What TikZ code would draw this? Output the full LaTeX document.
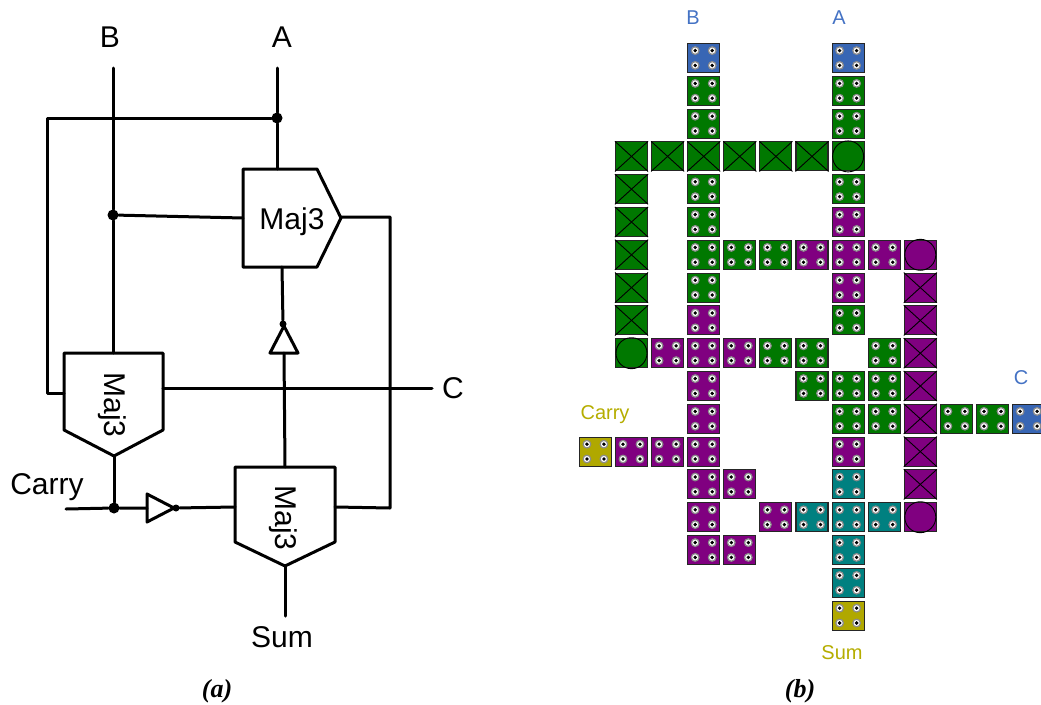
\documentclass[tikz,border=0pt]{standalone}
\usepackage{fontspec}
\setmainfont{Liberation Sans}
\newfontfamily\capfont{Liberation Serif}
\definecolor{cellgreen}{RGB}{0,120,0}
\definecolor{cellpurple}{RGB}{128,0,128}
\definecolor{cellblue}{RGB}{56,102,180}
\definecolor{cellteal}{RGB}{0,128,128}
\definecolor{cellolive}{RGB}{176,168,0}
\definecolor{labelblue}{RGB}{68,114,196}
\definecolor{labelolive}{RGB}{181,173,0}
\tikzset{
  wire/.style={line width=3pt,line cap=round,line join=round},
  gate/.style={line width=3pt,line join=round},
  jdot/.style={circle,fill=black,inner sep=0pt,minimum size=#1},
  bigtext/.style={font=\fontsize{30}{30}\selectfont},
  smalltext/.style={font=\fontsize{20}{20}\selectfont},
  captext/.style={font=\capfont\bfseries\itshape\fontsize{26}{26}\selectfont},
  cellbox/.style={draw=black!85,line width=1.1pt,minimum width=32pt,minimum height=29pt,inner sep=0pt},
}
\newcommand{\dotcells}[2]{
  \foreach \c/\r in {#2}{
    \node[cellbox,fill=#1] (v\c-\r) at ({595.4+36.1*\c},{58+32.8*\r}) {};
    \foreach \dx in {-8.5,8.5}{\foreach \dy in {-7.4,7.4}{
      \draw[fill=white,draw=gray!90,line width=1.2pt] ([shift={(\dx,\dy)}]v\c-\r.center) circle (3.8);
      \fill[black] ([shift={(\dx,\dy)}]v\c-\r.center) circle (1.9);
    }}
  }
}
\newcommand{\crosscells}[2]{
  \foreach \c/\r in {#2}{
    \node[cellbox,fill=#1] (x\c-\r) at ({595.4+36.1*\c},{58+32.8*\r}) {};
    \draw[line width=0.9pt] (x\c-\r.north west) -- (x\c-\r.south east);
    \draw[line width=0.9pt] (x\c-\r.north east) -- (x\c-\r.south west);
  }
}
\newcommand{\roundcells}[2]{
  \foreach \c/\r in {#2}{
    \node[cellbox,fill=#1] (o\c-\r) at ({595.4+36.1*\c},{58+32.8*\r}) {};
    \draw[line width=0.9pt] (o\c-\r.center) circle (15.5);
  }
}
\begin{document}
\begin{tikzpicture}[x=1pt,y=-1pt]
    \useasboundingbox (0,0) rectangle (1041,704);
    % (a) gates
    \draw[gate] (243,169) -- (317,169) -- (341,218) -- (317,267) -- (243,267) -- cycle;
    \draw[gate] (64,353) -- (163,353) -- (163,430) -- (114,456) -- (64,430) -- cycle;
    \draw[gate] (235,467) -- (335,467) -- (335,542) -- (285,566) -- (235,542) -- cycle;
    \draw[gate] (270,353) -- (298,353) -- (284,326) -- cycle;
    \draw[gate] (147,494) -- (147,522) -- (174,508) -- cycle;
    \node[bigtext] (majtop) at (292,222) {Maj3};
    \node[bigtext,rotate=-90] (majleft) at (112,405) {Maj3};
    \node[bigtext,rotate=-90] (majright) at (283,518) {Maj3};
    % (a) junctions and pins
    \node[jdot=11pt] (dotA) at (277,118) {};
    \node[jdot=11pt] (dotB) at (113,215) {};
    \node[jdot=11pt] (dotCarry) at (114,508) {};
    \node[jdot=7pt] (dotUp) at (283,324) {};
    \node[jdot=7pt] (dotInv) at (176,508) {};
    \coordinate (inA) at (277,68);
    \coordinate (inB) at (113,68);
    \coordinate (topA) at (277,169);
    \coordinate (topW) at (243,218);
    \coordinate (topS) at (282,267);
    \coordinate (topOut) at (341,217);
    \coordinate (leftN) at (113,353);
    \coordinate (leftW) at (64,393);
    \coordinate (leftS) at (114,456);
    \coordinate (leftE) at (163,388);
    \coordinate (endC) at (432,388);
    \coordinate (endCarry) at (66,509);
    \coordinate (invIn) at (147,508);
    \coordinate (rightW) at (235,507);
    \coordinate (rightN) at (285,467);
    \coordinate (rightE) at (335,507);
    \coordinate (rightS) at (285,566);
    \coordinate (endSum) at (285,616);
    \coordinate (upIn) at (284,353);
    % (a) wires
    \draw[wire] (inA) -- (dotA) -- (topA);
    \draw[wire] (inB) -- (dotB) -- (leftN);
    \draw[wire] (dotB) -- (topW);
    \draw[wire] (dotA) -- (47,118) -- (47,393) -- (leftW);
    \draw[wire] (topOut) -- (390,217) -- (390,508) -- (rightE);
    \draw[wire] (topS) -- (dotUp);
    \draw[wire] (upIn) -- (rightN);
    \draw[wire] (leftE) -- (endC);
    \draw[wire] (leftS) -- (dotCarry);
    \draw[wire] (endCarry) -- (dotCarry) -- (invIn);
    \draw[wire] (dotInv) -- (rightW);
    \draw[wire] (rightS) -- (endSum);
    % (a) labels
    \node[bigtext] (labB) at (110,37) {B};
    \node[bigtext] (labA) at (282,37) {A};
    \node[bigtext] (labC) at (453,388) {C};
    \node[bigtext] (labCarry) at (47,487) {Carry};
    \node[bigtext] (labSum) at (282,637) {Sum};
    \node[captext] (capa) at (217,691) {(a)};
    % (b) layout
    \dotcells{cellblue}{3/0,7/0,12/11}
    \dotcells{cellolive}{0/12,7/17}
    \dotcells{cellgreen}{3/1,7/1,3/2,7/2,3/4,7/4,3/5,3/6,4/6,5/6,3/7,7/8,5/9,6/9,8/9,6/10,7/10,8/10,7/11,8/11,10/11,11/11}
    \dotcells{cellpurple}{7/5,6/6,7/6,8/6,7/7,3/8,2/9,3/9,4/9,3/10,3/11,1/12,2/12,3/12,7/12,3/13,4/13,3/14,5/14,3/15,4/15}
    \dotcells{cellteal}{7/13,6/14,7/14,8/14,7/15,7/16}
    \crosscells{cellgreen}{1/3,2/3,3/3,4/3,5/3,6/3,1/4,1/5,1/6,1/7,1/8}
    \crosscells{cellpurple}{9/7,9/8,9/9,9/10,9/11,9/12,9/13}
    \roundcells{cellgreen}{7/3,1/9}
    \roundcells{cellpurple}{9/6,9/14}
    % (b) labels
    \node[smalltext,text=labelblue] (padB) at (693,18) {B};
    \node[smalltext,text=labelblue] (padA) at (839,18) {A};
    \node[smalltext,text=labelblue] (padC) at (1021,378) {C};
    \node[smalltext,text=labelolive] (padCarry) at (605,415) {Carry};
    \node[smalltext,text=labelolive] (padSum) at (842,653) {Sum};
    \node[captext] (capb) at (800,691) {(b)};
\end{tikzpicture}
\end{document}
